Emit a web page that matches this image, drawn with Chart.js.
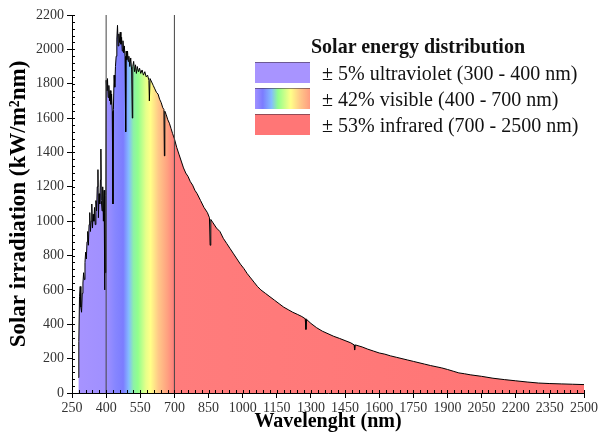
<!DOCTYPE html>
<html>
<head>
<meta charset="utf-8">
<script src="https://cdn.jsdelivr.net/npm/chart.js@4.4.0/dist/chart.umd.min.js"></script>
<style>
  body { margin: 0; background: #fff; }
  #wrap { position: relative; width: 600px; height: 437px; }
  #legend { position: absolute; left: 0; top: 0; font-family: "Liberation Serif", "Times New Roman", serif; color: #111; }
  #legend .title { position: absolute; left: 300px; top: 35px; width: 236px; text-align: center; font-weight: bold; font-size: 20px; line-height: 22px; white-space: nowrap; }
  #legend .row { position: absolute; left: 255px; height: 22px; white-space: nowrap; }
  #legend .box { position: absolute; left: 0; top: 0; width: 55px; height: 21px; border-top: 1px solid rgba(60,40,60,0.55); box-sizing: border-box; }
  #legend .label { position: absolute; left: 67px; top: 0; font-size: 20px; line-height: 22px; }
</style>
</head>
<body>
<div id="wrap">
  <canvas id="solarChart" width="600" height="437"></canvas>
  <div id="legend"></div>
</div>
<script>
// --- DONNEES ---
// ultraviolet
const uvNm = [278, 280, 283, 286, 289, 292, 295, 298, 301, 304, 307, 310, 313, 316, 319, 322, 325, 328, 331, 334, 337, 340, 343, 346, 349, 352, 355, 358, 361, 364, 366, 369, 372, 375, 377, 379, 382, 385, 388, 391, 393, 395, 397, 399];
const uvVal = [90, 300, 560, 620, 500, 470, 580, 640, 700, 660, 760, 820, 780, 880, 940, 860, 980, 1050, 940, 1000, 1100, 960, 1040, 1000, 1080, 980, 1120, 1060, 1200, 1300, 1020, 1160, 1100, 1240, 1420, 1120, 1060, 1200, 1000, 1180, 600, 1050, 700, 1150];
// visible
const visNm = [400, 403, 406, 409, 412, 415, 418, 421, 424, 427, 430, 432, 435, 438, 441, 444, 447, 450, 453, 456, 459, 462, 465, 468, 471, 474, 477, 480, 483, 486, 488, 491, 494, 497, 500, 504, 508, 512, 515, 517, 521, 525, 529, 533, 537, 542, 547, 552, 558, 564, 570, 576, 582, 588, 590, 593, 600, 607, 614, 621, 628, 635, 642, 649, 654, 656, 658, 664, 671, 678, 685, 692];
const visVal = [1820, 1760, 1830, 1720, 1790, 1700, 1760, 1680, 1740, 1640, 1100, 1650, 1850, 1780, 1900, 1960, 2060, 2140, 2020, 2090, 2040, 2100, 2030, 2070, 1990, 2050, 1980, 2020, 1960, 1520, 1990, 1940, 1990, 1930, 1960, 1900, 1950, 1880, 1600, 1900, 1930, 1870, 1910, 1860, 1900, 1870, 1890, 1860, 1880, 1850, 1870, 1840, 1850, 1820, 1700, 1830, 1810, 1790, 1770, 1750, 1740, 1710, 1690, 1660, 1650, 1380, 1640, 1620, 1590, 1570, 1540, 1510];
// infrarouge
const irNm = [700, 710, 720, 730, 740, 750, 760, 770, 780, 790, 800, 815, 830, 845, 854, 857, 860, 870, 885, 900, 915, 930, 945, 960, 975, 990, 1005, 1020, 1035, 1050, 1065, 1080, 1100, 1120, 1140, 1160, 1180, 1200, 1220, 1240, 1260, 1275, 1278, 1281, 1300, 1325, 1350, 1375, 1400, 1425, 1450, 1475, 1490, 1492, 1495, 1525, 1550, 1575, 1600, 1625, 1650, 1675, 1700, 1725, 1750, 1775, 1800, 1825, 1850, 1875, 1900, 1925, 1950, 1975, 2000, 2050, 2100, 2150, 2200, 2250, 2300, 2350, 2400, 2450, 2500];
const irVal = [1480, 1430, 1390, 1350, 1310, 1280, 1260, 1230, 1210, 1180, 1160, 1120, 1080, 1050, 1020, 860, 1010, 990, 960, 940, 900, 870, 840, 810, 780, 750, 725, 695, 670, 645, 620, 600, 580, 560, 540, 520, 500, 485, 470, 458, 445, 432, 370, 428, 405, 380, 360, 345, 330, 318, 305, 292, 280, 250, 280, 268, 255, 244, 233, 226, 216, 208, 200, 192, 184, 176, 168, 160, 153, 146, 137, 127, 117, 112, 106, 97, 86, 78, 71, 64, 58, 55, 53, 51, 49];

const bandLimits = [400, 700];
const xTicks = [250, 400, 550, 700, 850, 1000, 1150, 1300, 1450, 1600, 1750, 1900, 2050, 2200, 2350, 2500];
const yTicks = [0, 200, 400, 600, 800, 1000, 1200, 1400, 1600, 1800, 2000, 2200];

const legendTitle = "Solar energy distribution";
const legendLabels = [
  "± 5% ultraviolet (300 - 400 nm)",
  "± 42% visible (400 - 700 nm)",
  "± 53% infrared (700 - 2500 nm)",
];

// --- COULEURS ---
const spectrumStops = [
  [250, "#a894ff"], [400, "#a090ff"], [440, "#8686ff"], [475, "#7c7cff"],
  [500, "#84bcff"], [520, "#8cf0a8"], [540, "#92ff8c"], [575, "#e6ff8a"],
  [595, "#ffff88"], [630, "#ffc888"], [670, "#ffa080"], [700, "#ff7c7c"],
  [2500, "#ff7474"],
];
const legendFills = [
  "#a894ff",
  "linear-gradient(to right, #a090ff 0%, #7c7cff 14%, #84bcff 30%, #92ff8c 42%, #ffff88 65%, #ffc888 82%, #ff9c80 100%)",
  "#ff7676",
];
const serif = "'Liberation Serif', 'Times New Roman', serif";

const allNm = uvNm.concat(visNm, irNm);
const allVal = uvVal.concat(visVal, irVal);
const spectrum = allNm.map((nm, i) => ({ x: nm, y: allVal[i] }));

// --- LEGENDE HTML ---
const legendEl = document.getElementById("legend");
legendEl.innerHTML = '<div class="title">' + legendTitle + "</div>";
const rowTops = [62, 88, 114];
legendLabels.forEach((txt, i) => {
  const row = document.createElement("div");
  row.className = "row";
  row.style.top = rowTops[i] + "px";
  row.innerHTML = '<div class="box" style="background:' + legendFills[i] + '"></div><div class="label">' + txt + "</div>";
  legendEl.appendChild(row);
});

// --- PETITES GRADUATIONS ---
const minorTicks = {
  id: "minorTicks",
  afterDraw(chart) {
    const { ctx, scales } = chart;
    const x = scales.x, y = scales.y;
    ctx.save();
    ctx.strokeStyle = "#000";
    ctx.lineWidth = 1;
    ctx.beginPath();
    for (let v = 250; v <= 2500; v += 30) {
      const px = Math.round(x.getPixelForValue(v)) + 0.5;
      ctx.moveTo(px, y.bottom);
      ctx.lineTo(px, y.bottom - 3);
    }
    for (let v = 0; v <= 2200; v += 40) {
      const py = Math.round(y.getPixelForValue(v)) + 0.5;
      ctx.moveTo(x.left, py);
      ctx.lineTo(x.left + 3, py);
    }
    ctx.stroke();
    ctx.restore();
  },
};

function spectrumFill(context) {
  const chart = context.chart;
  if (!chart.chartArea) return "#ff7676";
  const x = chart.scales.x;
  const x0 = x.getPixelForValue(250), x1 = x.getPixelForValue(2500);
  const g = chart.ctx.createLinearGradient(x0, 0, x1, 0);
  spectrumStops.forEach(([nm, c]) => g.addColorStop((nm - 250) / 2250, c));
  return g;
}

new Chart(document.getElementById("solarChart"), {
  type: "line",
  data: {
    datasets: [
      {
        data: spectrum,
        borderColor: "#000",
        borderWidth: 1,
        backgroundColor: spectrumFill,
        fill: "origin",
        pointRadius: 0,
        tension: 0,
        order: 2,
      },
      ...bandLimits.map((nm) => ({
        data: [{ x: nm, y: 0 }, { x: nm, y: 2200 }],
        borderColor: "#444",
        borderWidth: 1,
        pointRadius: 0,
        fill: false,
        order: 1,
      })),
    ],
  },
  options: {
    responsive: false,
    animation: false,
    layout: { padding: { top: 15, right: 14, left: 0, bottom: 0 } },
    plugins: { legend: { display: false }, tooltip: { enabled: false } },
    scales: {
      x: {
        type: "linear",
        min: 250,
        max: 2500,
        afterBuildTicks: (s) => { s.ticks = xTicks.map((v) => ({ value: v })); },
        afterFit: (s) => { s.height = 44; },
        ticks: { color: "#333", font: { family: serif, size: 14 }, padding: 2, maxRotation: 0, autoSkip: false, callback: (v) => String(v) },
        grid: { drawOnChartArea: false, color: "#000", tickLength: 5 },
        border: { color: "#000", width: 1 },
        title: { display: true, text: "Wavelenght (nm)", color: "#000", font: { family: serif, size: 20, weight: "bold" }, padding: { top: 0, bottom: 3 } },
      },
      y: {
        type: "linear",
        min: 0,
        max: 2200,
        afterBuildTicks: (s) => { s.ticks = yTicks.map((v) => ({ value: v })); },
        afterFit: (s) => { s.width = 72; },
        ticks: { color: "#333", font: { family: serif, size: 14 }, padding: 3, callback: (v) => String(v) },
        grid: { drawOnChartArea: false, color: "#000", tickLength: 5 },
        border: { color: "#000", width: 1 },
        title: { display: true, text: "Solar irradiation (kW/m²nm)", color: "#000", font: { family: serif, size: 23, weight: "bold" }, padding: { top: 5, bottom: 0 } },
      },
    },
  },
  plugins: [minorTicks],
});
</script>
</body>
</html>
